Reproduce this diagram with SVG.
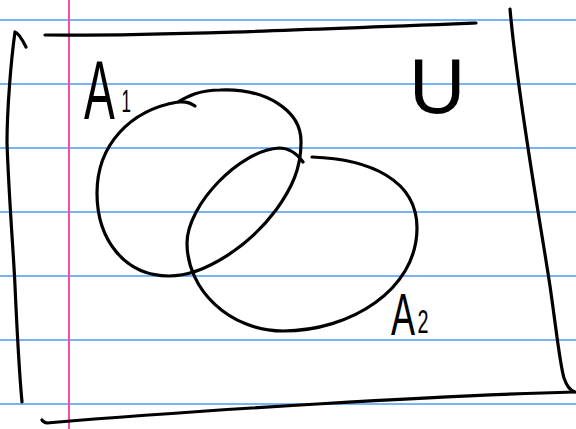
<svg xmlns="http://www.w3.org/2000/svg" width="576" height="429" viewBox="0 0 576 429">
<style>
.rule{stroke:#77b4f6;stroke-width:2}
.ink{fill:none;stroke:#000;stroke-width:3.2;stroke-linecap:round;stroke-linejoin:round}
.lbl{font-family:"Liberation Sans",Arial,sans-serif;fill:#000}
</style>
<rect width="576" height="429" fill="#fff"/>
<g id="paper">
<line class="rule" x1="0" y1="20" x2="576" y2="20"/>
<line class="rule" x1="0" y1="84" x2="576" y2="84"/>
<line class="rule" x1="0" y1="148" x2="576" y2="148"/>
<line class="rule" x1="0" y1="212" x2="576" y2="212"/>
<line class="rule" x1="0" y1="276" x2="576" y2="276"/>
<line class="rule" x1="0" y1="340" x2="576" y2="340"/>
<line class="rule" x1="0" y1="404" x2="576" y2="404"/>
<line x1="69" y1="0" x2="69" y2="429" stroke="#ff4b9e" stroke-width="2"/>
</g>
<g id="universe">
<path class="ink" d="M26,47 Q19,33 15,32 C11,60 7,110 7,143 C9,200 14,260 15,286 C17,330 19,370 22,402"/>
<path class="ink" d="M45,35 C150,36 300,30 476,23"/>
<path class="ink" d="M510,9 C518,100 540,220 550,286 C557,335 560,365 564,378 Q568,390 575,392"/>
<path class="ink" d="M574,392 C450,395 200,410 47,423 Q43,422 42,420"/>
<text class="lbl" x="409" y="113" font-size="78">U</text>
</g>
<g id="A1">
<path class="ink" d="M195,106 Q188,101 179,102"/>
<path class="ink" d="M178,102 C130,110 97,145 97,193 C97,240 125,276 169,276 C205,276 250,245 276,210 C292,188 301,168 301,143 C302,110 265,88 220,90 C200,90 188,96 178,102"/>
<text class="lbl" transform="translate(84,119) scale(0.55,1)" font-size="84">A<tspan font-size="31" dx="12" dy="-7">1</tspan></text>
</g>
<g id="A2">
<path class="ink" d="M312,157 C370,159 417,180 417,228 C417,290 350,331 283,331 C230,331 187,290 187,243 C187,205 240,150 279,148 C290,148 298,155 303,162"/>
<text class="lbl" transform="translate(391,335) scale(0.6,1)" font-size="60">A<tspan font-size="33" dx="4" dy="-2">2</tspan></text>
</g>
</svg>
